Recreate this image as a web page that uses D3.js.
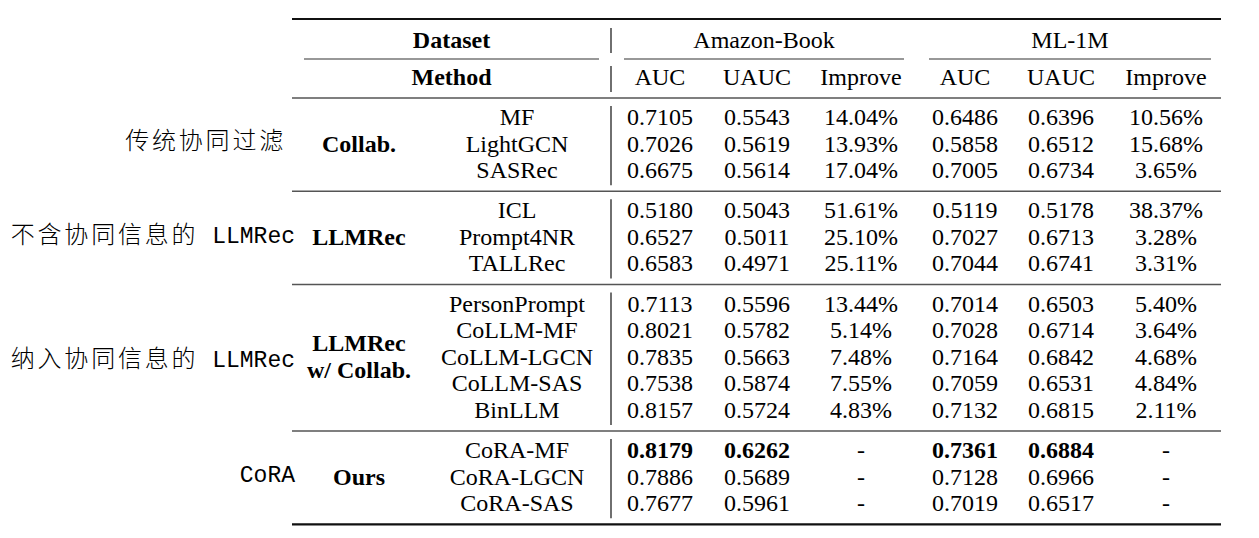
<!DOCTYPE html>
<html>
<head>
<meta charset="utf-8">
<script src="https://cdn.jsdelivr.net/npm/d3@7"></script>
<style>
  body { margin: 0; background: #fff; }
  svg { display: block; }
</style>
</head>
<body>
<svg id="svg"></svg>
<script>
const width = 1259;
const height = 538;

// table content
const datasets = ["Amazon-Book", "ML-1M"];
const metrics = ["AUC", "UAUC", "Improve"];
const groups = [["Collab."], ["LLMRec"], ["LLMRec", "w/ Collab."], ["Ours"]];
const groupNotes = [["传统协同过滤", ""], ["不含协同信息的", " LLMRec"], ["纳入协同信息的", " LLMRec"], ["", "CoRA"]];
const methods = ["MF", "LightGCN", "SASRec", "ICL", "Prompt4NR", "TALLRec",
  "PersonPrompt", "CoLLM-MF", "CoLLM-LGCN", "CoLLM-SAS", "BinLLM",
  "CoRA-MF", "CoRA-LGCN", "CoRA-SAS"];
const methodGroup = [0, 0, 0, 1, 1, 1, 2, 2, 2, 2, 2, 3, 3, 3];
const bookAUC = [0.7105, 0.7026, 0.6675, 0.5180, 0.6527, 0.6583, 0.7113, 0.8021, 0.7835, 0.7538, 0.8157, 0.8179, 0.7886, 0.7677];
const bookUAUC = [0.5543, 0.5619, 0.5614, 0.5043, 0.5011, 0.4971, 0.5596, 0.5782, 0.5663, 0.5874, 0.5724, 0.6262, 0.5689, 0.5961];
const bookImprove = [14.04, 13.93, 17.04, 51.61, 25.10, 25.11, 13.44, 5.14, 7.48, 7.55, 4.83, null, null, null];
const mlAUC = [0.6486, 0.5858, 0.7005, 0.5119, 0.7027, 0.7044, 0.7014, 0.7028, 0.7164, 0.7059, 0.7132, 0.7361, 0.7128, 0.7019];
const mlUAUC = [0.6396, 0.6512, 0.6734, 0.5178, 0.6713, 0.6741, 0.6503, 0.6714, 0.6842, 0.6531, 0.6815, 0.6884, 0.6966, 0.6517];
const mlImprove = [10.56, 15.68, 3.65, 38.37, 3.28, 3.31, 5.40, 3.64, 4.68, 4.84, 2.11, null, null, null];
const boldMethod = "CoRA-MF";

const serif = "'Liberation Serif', 'Times New Roman', serif";
const fontSize = 24;

const svg = d3.select("#svg")
    .attr("width", width)
    .attr("height", height)
    .attr("viewBox", [0, 0, width, height]);

// columns
const colKeys = ["group", "method", "bAUC", "bUAUC", "bImp", "mAUC", "mUAUC", "mImp"];
const xCol = d3.scaleOrdinal()
    .domain(colKeys)
    .range([359, 517, 660, 757, 861, 965, 1061, 1166]);

const tableLeft = 292, tableRight = 1221, vBarX = 611;
const headSpan = [304, 599];
const datasetSpans = [[624, 904], [929, 1211]];

// rows
const rowStep = 26.6, blockGap = 13.5;
const yRow = d3.scaleLinear()
    .domain([0, methods.length - 1])
    .range([117, 117 + (methods.length - 1) * rowStep]);
const rowY = i => yRow(i) + blockGap * methodGroup[i];
const headerY = [40, 77];

const fmtAUC = d3.format(".4f");
const fmtImp = v => v == null ? "-" : d3.format(".2f")(v) + "%";

function cell(x, y, text, bold) {
    svg.append("text")
        .attr("x", x)
        .attr("y", y)
        .attr("dy", "0.33em")
        .attr("text-anchor", "middle")
        .attr("font-family", serif)
        .attr("font-size", fontSize)
        .attr("font-weight", bold ? "bold" : "normal")
        .attr("fill", "#000")
        .text(text);
}

function hline(x1, x2, y, w, color) {
    svg.append("line")
        .attr("x1", x1).attr("x2", x2)
        .attr("y1", y).attr("y2", y)
        .attr("stroke", color)
        .attr("stroke-width", w);
}

function vline(y1, y2) {
    svg.append("line")
        .attr("x1", vBarX).attr("x2", vBarX)
        .attr("y1", y1).attr("y2", y2)
        .attr("stroke", "#222")
        .attr("stroke-width", 1.3);
}

// header
cell((headSpan[0] + headSpan[1]) / 2, headerY[0], "Dataset", true);
cell((headSpan[0] + headSpan[1]) / 2, headerY[1], "Method", true);
hline(headSpan[0], headSpan[1], 59, 1.2, "#333");
datasets.forEach((d, i) => {
    cell((datasetSpans[i][0] + datasetSpans[i][1]) / 2, headerY[0], d, false);
    hline(datasetSpans[i][0], datasetSpans[i][1], 59, 1.2, "#333");
});
metrics.forEach((m, j) => {
    cell(xCol(colKeys[2 + j]), headerY[1], m, false);
    cell(xCol(colKeys[5 + j]), headerY[1], m, false);
});
vline(28, 53);
vline(66, 92);

// rules
hline(tableLeft, tableRight, 19, 2.2, "#111");
hline(tableLeft, tableRight, rowY(0) - 19, 1.6, "#555");

// body
methods.forEach((m, i) => {
    const y = rowY(i);
    const b = m === boldMethod;
    cell(xCol("method"), y, m, false);
    cell(xCol("bAUC"), y, fmtAUC(bookAUC[i]), b);
    cell(xCol("bUAUC"), y, fmtAUC(bookUAUC[i]), b);
    cell(xCol("bImp"), y, fmtImp(bookImprove[i]), false);
    cell(xCol("mAUC"), y, fmtAUC(mlAUC[i]), b);
    cell(xCol("mUAUC"), y, fmtAUC(mlUAUC[i]), b);
    cell(xCol("mImp"), y, fmtImp(mlImprove[i]), false);
});

// group blocks
groups.forEach((g, gi) => {
    const idx = d3.range(methods.length).filter(i => methodGroup[i] === gi);
    const yTop = rowY(idx[0]), yBot = rowY(idx[idx.length - 1]);
    const yMid = (yTop + yBot) / 2;
    g.forEach((line, li) => {
        cell(xCol("group"), yMid + (li - (g.length - 1) / 2) * 27.5, line, true);
    });
    const ruleTop = yTop - 19;
    const ruleBot = yBot + 21;
    vline(ruleTop + 8, ruleBot - 6);
    const last = gi === groups.length - 1;
    hline(tableLeft, tableRight, ruleBot, last ? 2.2 : 1.6, last ? "#111" : "#555");

    // annotation on the left
    const note = svg.append("text")
        .attr("x", gi === 0 ? 286 : 295)
        .attr("y", yMid + (gi === 2 ? 4 : 0))
        .attr("dy", "0.36em")
        .attr("text-anchor", "end")
        .attr("fill", "#000");
    if (groupNotes[gi][0]) {
        note.append("tspan")
            .attr("font-family", "'Noto Sans CJK SC', sans-serif")
            .attr("font-size", 24)
            .attr("font-weight", 300)
            .attr("letter-spacing", "2.8px")
            .text(groupNotes[gi][0]);
    }
    if (groupNotes[gi][1]) {
        note.append("tspan")
            .attr("font-family", "'Liberation Mono', monospace")
            .attr("font-size", 23)
            .text(groupNotes[gi][1]);
    }
});

svg.node();
</script>
</body>
</html>
